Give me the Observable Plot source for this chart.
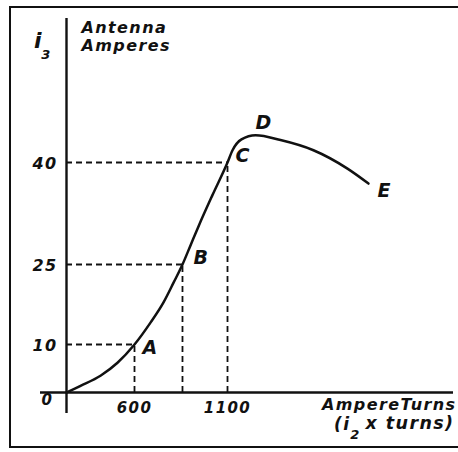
<!DOCTYPE html>
<html>
<head>
<meta charset="utf-8">
<script src="https://cdn.jsdelivr.net/npm/d3@7"></script>
<script src="https://cdn.jsdelivr.net/npm/@observablehq/plot@0.6"></script>
<style>
  html, body { margin: 0; padding: 0; background: #fff; overflow: hidden; }
  #wrap { position: relative; width: 458px; height: 452px; overflow: hidden; }
  #wrap svg { display: block; }
  .bar { position: absolute; background: #111; pointer-events: none; }
  #bTop { left: 9px; top: 6px; width: 449px; height: 2px; }
  #bLeft { left: 9px; top: 6px; width: 2px; height: 442px; }
  #bBottom { left: 9px; top: 446px; width: 449px; height: 2px; }
  svg { font-family: "DejaVu Sans", sans-serif; }
  svg text { letter-spacing: 1.4px; }
</style>
</head>
<body>
<div id="wrap"><div class="bar" id="bTop"></div><div class="bar" id="bLeft"></div><div class="bar" id="bBottom"></div></div>
<script>
// Curve (ampere turns vs antenna amperes)
const curveX = [0, 124, 300, 450, 600, 686, 756, 810, 858, 901, 944, 1019, 1100, 1127, 1175, 1251, 1385, 1562, 1745, 1858];
const curveY = [0, 1.4, 3.5, 6.2, 10, 14.1, 17.9, 21.6, 25, 27.8, 30.6, 35.2, 40, 41.8, 43.4, 44.0, 43.3, 41.8, 39.1, 36.9];

// Named points
const pointNames = ["A", "B", "C", "D", "E"];
const pointX = [600, 858, 1100, 1251, 1858];
const pointY = [10, 25, 40, 44.0, 36.9];

// Tick labels
const xTicks = [600, 1100];
const yTicks = [10, 25, 40];

const curve = curveX.map((x, i) => ({x, y: curveY[i]}));
const pts = pointNames.map((name, i) => ({name, x: pointX[i], y: pointY[i]}));
const guides = pts.slice(0, 3);

const ink = "#111";
const labelOffsets = {
  A: {dx: 8, dy: 3}, B: {dx: 11, dy: -7}, C: {dx: 8, dy: -7}, D: {dx: 0, dy: -12}, E: {dx: 9, dy: 7}
};

const fontIt = {fontStyle: "italic", fontWeight: "bold", fill: ink};

const chart = Plot.plot({
  width: 458,
  height: 452,
  margin: 0,
  x: {type: "linear", domain: [0, 600, 1100], range: [66, 134, 227], axis: null},
  y: {type: "linear", domain: [0, 10, 25, 40], range: [392, 344, 264, 162], axis: null},
  style: {background: "transparent"},
  marks: [
    // dashed guides
    Plot.ruleY(guides, {y: "y", x1: 0, x2: "x", stroke: ink, strokeWidth: 1.8, strokeDasharray: "6,4"}),
    Plot.ruleX(guides, {x: "x", y1: 0, y2: "y", stroke: ink, strokeWidth: 1.8, strokeDasharray: "6,4"}),
    // axes
    Plot.ruleX([0], {stroke: ink, strokeWidth: 2.4, insetTop: 18, insetBottom: 39}),
    Plot.ruleY([0], {stroke: ink, strokeWidth: 2.4, insetLeft: 40, insetRight: 5}),
    // curve
    Plot.line(curve, {x: "x", y: "y", curve: "monotone-x", stroke: ink, strokeWidth: 2.5}),
    // point letters
    ...pts.map(p => Plot.text([p], {x: "x", y: "y", text: "name", textAnchor: "start", lineAnchor: "middle",
      dx: labelOffsets[p.name].dx, dy: labelOffsets[p.name].dy, fontSize: 19, ...fontIt})),
    // y tick labels
    Plot.text(yTicks, {x: 0, y: d => d, text: d => String(d), textAnchor: "end", dx: -9, dy: 1, fontSize: 16, ...fontIt}),
    // x tick labels
    Plot.text(xTicks, {x: d => d, y: 0, text: d => String(d), textAnchor: "middle", dy: 16, fontSize: 15, ...fontIt}),
    // origin label
    Plot.text(["0"], {x: 0, y: 0, text: d => d, textAnchor: "middle", dx: -19, dy: 8, fontSize: 15, ...fontIt}),
    // y title
    Plot.text(["i"], {x: 0, frameAnchor: "top", text: d => d, textAnchor: "middle", lineAnchor: "bottom", dx: -28, dy: 47, fontSize: 22, ...fontIt}),
    Plot.text(["3"], {x: 0, frameAnchor: "top", text: d => d, textAnchor: "middle", lineAnchor: "middle", dx: -20, dy: 54, fontSize: 13, ...fontIt}),
    Plot.text(["Antenna\nAmperes"], {x: 0, frameAnchor: "top", text: d => d, textAnchor: "start", lineAnchor: "top",
      dx: 15, dy: 20, fontSize: 16, lineHeight: 1.1, ...fontIt}),
    // x title
    Plot.text(["AmpereTurns"], {y: 0, frameAnchor: "right", text: d => d, textAnchor: "end", lineAnchor: "top",
      dx: -2, dy: 6, fontSize: 16, ...fontIt}),
    Plot.text(["x turns)"], {y: 0, frameAnchor: "right", text: d => d, textAnchor: "end", lineAnchor: "top",
      dx: -4, dy: 24, fontSize: 17.5, ...fontIt}),
    Plot.text(["(i"], {y: 0, frameAnchor: "right", text: d => d, textAnchor: "end", lineAnchor: "top",
      dx: -108, dy: 25, fontSize: 17, ...fontIt}),
    Plot.text(["2"], {y: 0, frameAnchor: "right", text: d => d, textAnchor: "middle", lineAnchor: "top",
      dx: -103, dy: 37, fontSize: 13, ...fontIt})
  ]
});
document.getElementById("wrap").prepend(chart);
</script>
</body>
</html>
